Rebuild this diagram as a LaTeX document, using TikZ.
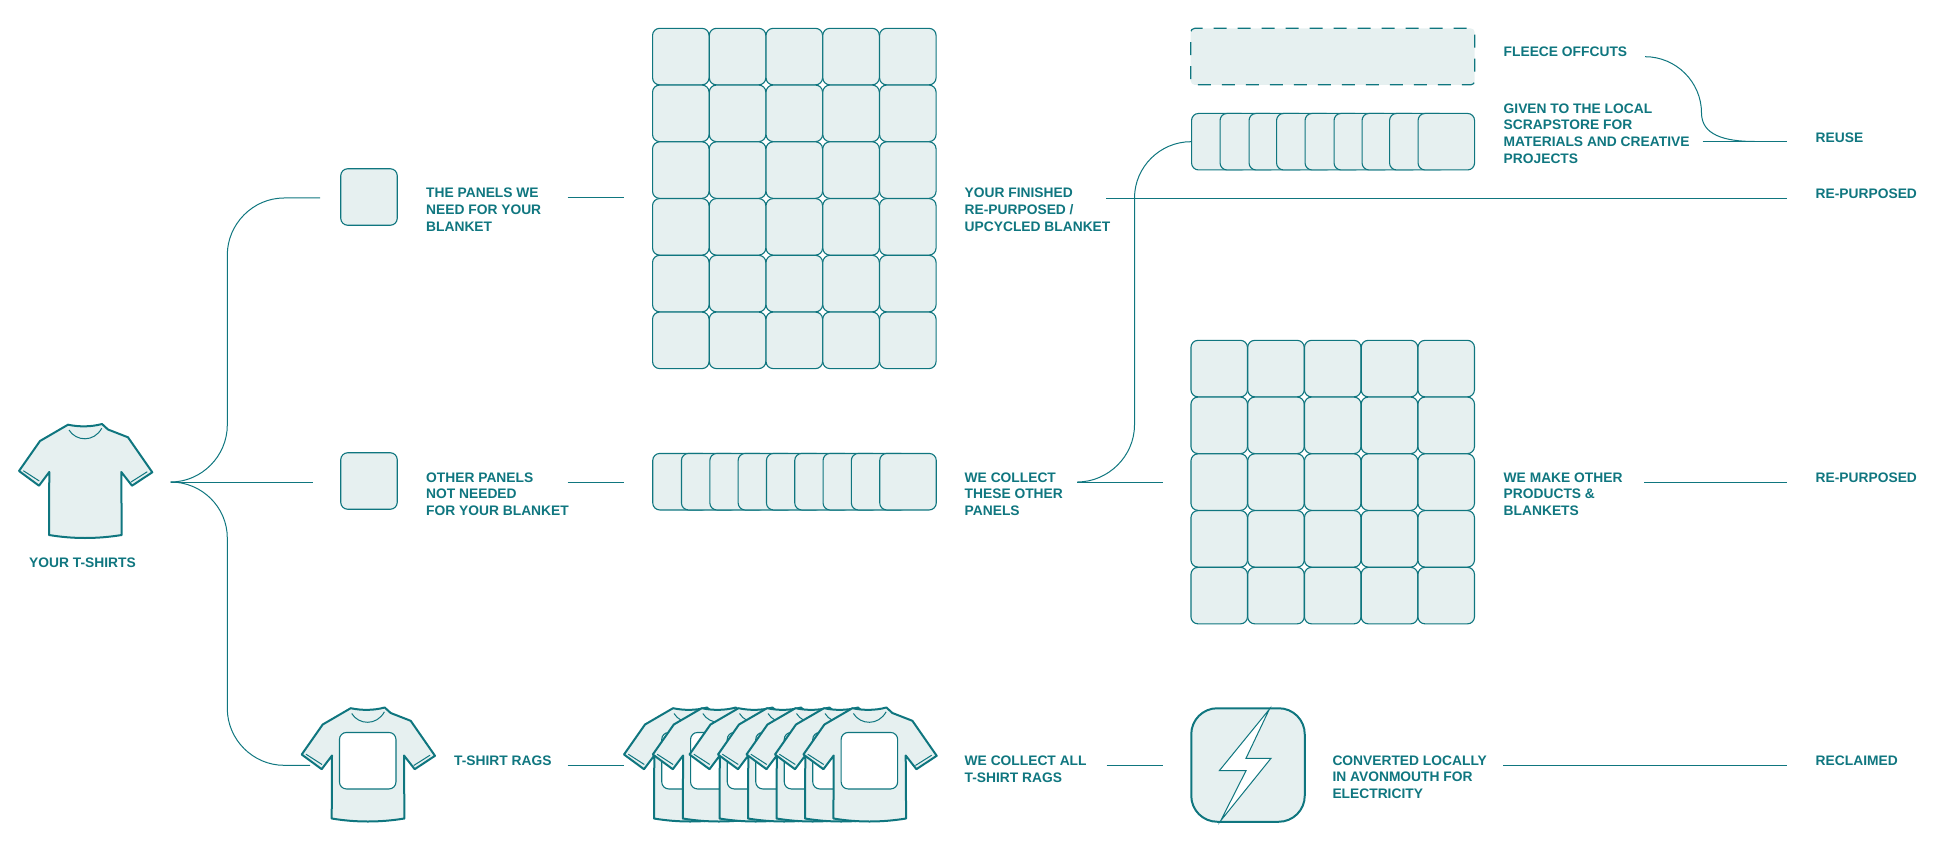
\documentclass[tikz,border=0pt]{standalone}
\usepackage{fontspec}
\setmainfont{Liberation Sans}
\definecolor{teal1}{RGB}{15,118,127}
\definecolor{pale}{RGB}{230,240,240}
\tikzset{
  cell/.style={draw=teal1,fill=pale,line width=1.1pt,rounded corners=7pt,inner sep=0pt,minimum width=56.5pt,minimum height=56.5pt},
  dashcell/.style={draw=teal1,fill=pale,line width=1.2pt,rounded corners=4pt,inner sep=0pt,minimum width=284pt,minimum height=56.5pt,dash pattern=on 13pt off 11pt,dash phase=-4pt},
  holecell/.style={draw=teal1,fill=white,line width=1.1pt,rounded corners=7pt,inner sep=0pt,minimum width=56.5pt,minimum height=56.5pt},
  boltcell/.style={draw=teal1,fill=pale,line width=2pt,rounded corners=26pt,inner sep=0pt,minimum width=113.5pt,minimum height=113.5pt},
  lab/.style={anchor=base west,inner sep=0pt,align=left,text=teal1,font=\fontsize{13.8}{16.7}\selectfont\bfseries},
  link/.style={draw=teal1,line width=1pt,line cap=butt},
  outl/.style={draw=teal1,line width=2pt,line join=round},
  thin/.style={draw=teal1,line width=1pt},
  shirt/.pic={
    \path[outl,fill=pale] (-17,-56.8) .. controls (-6,-54.5) and (6,-54.5) .. (17,-57.5)
      -- (23,-52) -- (43,-44.2) -- (67.3,-9.2) -- (47,4.2) -- (36.3,-9.5) -- (36.7,53.5)
      .. controls (12,57.5) and (-12,57.5) .. (-36,53.5)
      -- (-35.7,-9.5) -- (-46,4.2) -- (-66,-10.5) -- (-45,-40.5) -- cycle;
    \path[thin] (-16,-51.5) .. controls (-9,-40) and (9,-39) .. (16.7,-53.2);
    \path[thin] (-61.7,-10.8) -- (-45.7,-0.5);
    \path[thin] (46,0.5) -- (62.3,-9.8);
  }
}
\begin{document}
\begin{tikzpicture}[x=1pt,y=-1pt]
\useasboundingbox (0,0) rectangle (1956,850);
% grids
\foreach \c in {0,...,4}{\foreach \r in {0,...,5}{
  \node[cell] (a\c\r) at ({680.8+56.75*\c},{56.6+56.75*\r}) {};
}}
\foreach \c in {0,...,4}{\foreach \r in {0,...,4}{
  \node[cell] (b\c\r) at ({1219.2+56.75*\c},{368.6+56.75*\r}) {};
}}
% single panels
\node[cell] (p1) at (369,197) {};
\node[cell] (p2) at (369,481) {};
% overlapping rows
\foreach \i/\x in {1/652.2,2/680.9,3/709.3,4/737.6,5/765.9,6/794.2,7/822.5,8/850.8,9/879.2}{
  \node[cell,anchor=west] (m\i) at (\x,481.7) {};
}
\foreach \i/\x in {1/1191,2/1219.5,3/1248.5,4/1276,5/1304.5,6/1333.5,7/1361.5,8/1389,9/1417.5}{
  \node[cell,anchor=west] (s\i) at (\x,141.7) {};
}
\node[dashcell] (fleece) at (1332.7,56.6) {};
% shirts
\pic at (85,481.5) {shirt};
\pic at (367.7,765) {shirt};
\node[holecell] (h0) at (367.7,760.7) {};
\foreach \i/\x in {1/690,2/718.8,3/755.5,4/784,5/812.5,6/841,7/869.4}{
  \pic at (\x,765) {shirt};
  \node[holecell] (h\i) at (\x,760.7) {};
}
% bolt
\node[boltcell] (boltbox) at (1248,765) {};
\path[draw=teal1,fill=white,line width=1pt,line join=miter] (1269.3,709.3) -- (1246,758.3) -- (1271,758.3) -- (1220.7,820.7) -- (1246,770.7) -- (1219.3,770.7) -- cycle;
% connector coordinates
\coordinate (c0) at (170.7,482);
\coordinate (c1) at (227.3,425);
\coordinate (c2) at (227.3,255);
\coordinate (c3) at (284,198);
\coordinate (c4) at (320,198);
\coordinate (c5) at (312.7,482);
\coordinate (c6) at (227.3,538);
\coordinate (c7) at (227.3,708.5);
\coordinate (c8) at (284,765.3);
\coordinate (c9) at (310,765.3);
\draw[link] (c0) .. controls +(31,0) and +(0,31) .. (c1) -- (c2) .. controls +(0,-31) and +(-31,0) .. (c3) -- (c4);
\draw[link] (c0) -- (c5);
\draw[link] (c0) .. controls +(31,0) and +(0,-31) .. (c6) -- (c7) .. controls +(0,31) and +(-31,0) .. (c8) -- (c9);
\coordinate (d1) at (567.6,198); \coordinate (d2) at (624,198);
\coordinate (d3) at (567.6,482); \coordinate (d4) at (624,482);
\coordinate (d5) at (567.6,765.3); \coordinate (d6) at (624,765.3);
\draw[link] (d1) -- (d2); \draw[link] (d3) -- (d4); \draw[link] (d5) -- (d6);
\coordinate (e1) at (1106,198.3); \coordinate (e2) at (1787,198.3);
\draw[link] (e1) -- (e2);
\coordinate (f1) at (1077.3,482); \coordinate (f2) at (1163,482);
\coordinate (f3) at (1134.5,425); \coordinate (f4) at (1134.5,198); \coordinate (f5) at (1191,141.7);
\draw[link] (f1) -- (f2);
\draw[link] (f1) .. controls +(31,0) and +(0,31) .. (f3) -- (f4) .. controls +(0,-31) and +(-31,0) .. (f5);
\coordinate (g1) at (1645,56.7); \coordinate (g2) at (1701.5,113); \coordinate (g3) at (1754.6,141.5);
\coordinate (g4) at (1702.5,141.5); \coordinate (g5) at (1787,141.5);
\draw[link] (g1) .. controls +(31,0) and +(0,-31) .. (g2) .. controls +(0,22) and +(-30,0) .. (g3);
\draw[link] (g4) -- (g5);
\coordinate (k1) at (1644,482); \coordinate (k2) at (1787,482);
\draw[link] (k1) -- (k2);
\coordinate (k3) at (1106.5,765.3); \coordinate (k4) at (1162.7,765.3);
\draw[link] (k3) -- (k4);
\coordinate (k5) at (1503,765.3); \coordinate (k6) at (1787,765.3);
\draw[link] (k5) -- (k6);
% labels (base anchor = last line)
\node[lab] (t1) at (29,567) {YOUR T-SHIRTS};
\node[lab] (t2) at (426,231.4) {THE PANELS WE\\NEED FOR YOUR\\BLANKET};
\node[lab] (t3) at (426,515.4) {OTHER PANELS\\NOT NEEDED\\FOR YOUR BLANKET};
\node[lab] (t4) at (454,765.3) {T-SHIRT RAGS};
\node[lab] (t5) at (964.5,231.4) {YOUR FINISHED\\RE-PURPOSED /\\UPCYCLED BLANKET};
\node[lab] (t6) at (964.5,515.4) {WE COLLECT\\THESE OTHER\\PANELS};
\node[lab] (t7) at (964.5,782) {WE COLLECT ALL\\T-SHIRT RAGS};
\node[lab] (t8) at (1503.5,56.7) {FLEECE OFFCUTS};
\node[lab] (t9) at (1503.5,163.4) {GIVEN TO THE LOCAL\\SCRAPSTORE FOR\\MATERIALS AND CREATIVE\\PROJECTS};
\node[lab] (t10) at (1503.5,515.4) {WE MAKE OTHER\\PRODUCTS \&\\BLANKETS};
\node[lab] (t11) at (1332.3,798.6) {CONVERTED LOCALLY\\IN AVONMOUTH FOR\\ELECTRICITY};
\node[lab] (t12) at (1815.5,142.3) {REUSE};
\node[lab] (t13) at (1815.5,198.5) {RE-PURPOSED};
\node[lab] (t14) at (1815.5,482) {RE-PURPOSED};
\node[lab] (t15) at (1815.5,765.3) {RECLAIMED};
\end{tikzpicture}
\end{document}
